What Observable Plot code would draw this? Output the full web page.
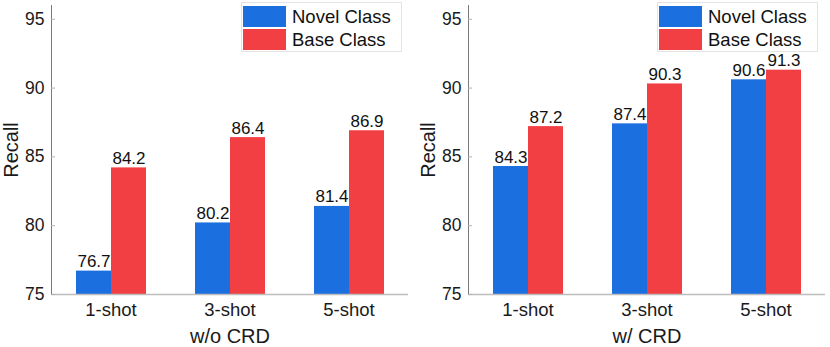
<!DOCTYPE html>
<html>
<head>
<meta charset="utf-8">
<script src="https://cdn.jsdelivr.net/npm/d3@7"></script>
<script src="https://cdn.jsdelivr.net/npm/@observablehq/plot@0.6"></script>
<style>
  html, body { margin: 0; padding: 0; background: #fff; }
  body { font-family: "Liberation Sans", Arial, Helvetica, sans-serif; }
  #wrap { display: flex; width: 830px; height: 347px; }
  .panel { position: relative; width: 415px; height: 347px; }
  .legend { position: absolute; top: 2px; width: 158px; height: 47px; border: 1px solid #e4e4e4; background: #fff; padding: 1px 0 0 1px; box-sizing: content-box; }
  .legend .row { display: flex; align-items: center; height: 22px; margin-top: 1px; }
  .legend .sw { width: 43px; height: 21px; margin-right: 6px; }
  .legend .lab { font-size: 18.5px; color: #111; line-height: 21px; }
  svg text { font-family: "Liberation Sans", Arial, Helvetica, sans-serif; }
</style>
</head>
<body>
<div id="wrap"></div>
<script>
const shots = ["1-shot", "3-shot", "5-shot"];
const classes = ["Novel Class", "Base Class"];
const colors = ["#1b6fdf", "#f23f43"];
const yTicks = [75, 80, 85, 90, 95];
const yBase = 75;
const yTop = 96;

const woNovel = [76.7, 80.2, 81.4];
const woBase = [84.2, 86.4, 86.9];
const wNovel = [84.3, 87.4, 90.6];
const wBase = [87.2, 90.3, 91.3];

const panels = [
  {title: "w/o CRD", novel: woNovel, base: woBase, ml: 51, mr: 7, legendLeft: 241},
  {title: "w/ CRD", novel: wNovel, base: wBase, ml: 52, mr: 5, legendLeft: 242}
];

const wrap = document.getElementById("wrap");

for (const p of panels) {
  const data = [];
  shots.forEach((s, i) => {
    data.push({shot: s, cls: classes[0], value: p.novel[i]});
    data.push({shot: s, cls: classes[1], value: p.base[i]});
  });

  const chart = Plot.plot({
    width: 415,
    height: 347,
    marginLeft: p.ml,
    marginRight: p.mr,
    marginTop: 5,
    marginBottom: 53,
    style: {fontFamily: "Liberation Sans, Arial, sans-serif", background: "transparent"},
    fx: {domain: shots, padding: 0},
    x: {domain: classes, paddingInner: 0, paddingOuter: 0.653, axis: null},
    y: {domain: [yBase, yTop]},
    color: {domain: classes, range: colors},
    marks: [
      Plot.barY(data, {fx: "shot", x: "cls", y1: () => yBase, y2: "value", fill: "cls", inset: 0}),
      Plot.ruleY([yBase], {stroke: "#bdbdbd", strokeWidth: 1.6}),
      Plot.frame({anchor: "left", facetAnchor: "left", stroke: "#7a7a7a"}),
      Plot.axisY(yTicks, {tickSize: 4, dx: 4, color: "#b0b0b0", tickFormat: () => "", label: null}),
      Plot.axisY(yTicks, {tickSize: 0, tickPadding: 7, fontSize: 17.5, color: "#1a1a1a", label: null}),
      Plot.axisY([], {tickSize: 0, fontSize: 20, color: "#1a1a1a", label: "Recall", labelAnchor: "center", labelArrow: "none", labelOffset: 48}),
      Plot.axisFx({anchor: "bottom", tickSize: 0, tickPadding: 8, fontSize: 18.5, color: "#1a1a1a", label: null}),
      Plot.axisFx([], {anchor: "bottom", tickSize: 0, fontSize: 20, color: "#1a1a1a", label: p.title, labelAnchor: "center", labelArrow: "none", labelOffset: 48}),
      Plot.text(data, {fx: "shot", x: "cls", y: "value", text: d => d.value.toFixed(1), lineAnchor: "bottom", dy: -4, fontSize: 17, fill: "#111"})
    ]
  });

  const panel = document.createElement("div");
  panel.className = "panel";
  panel.appendChild(chart);

  const legend = document.createElement("div");
  legend.className = "legend";
  legend.style.left = p.legendLeft + "px";
  classes.forEach((c, i) => {
    const row = document.createElement("div");
    row.className = "row";
    const sw = document.createElement("div");
    sw.className = "sw";
    sw.style.background = colors[i];
    const lab = document.createElement("div");
    lab.className = "lab";
    lab.textContent = c;
    row.appendChild(sw);
    row.appendChild(lab);
    legend.appendChild(row);
  });
  panel.appendChild(legend);
  wrap.appendChild(panel);
}
</script>
</body>
</html>
